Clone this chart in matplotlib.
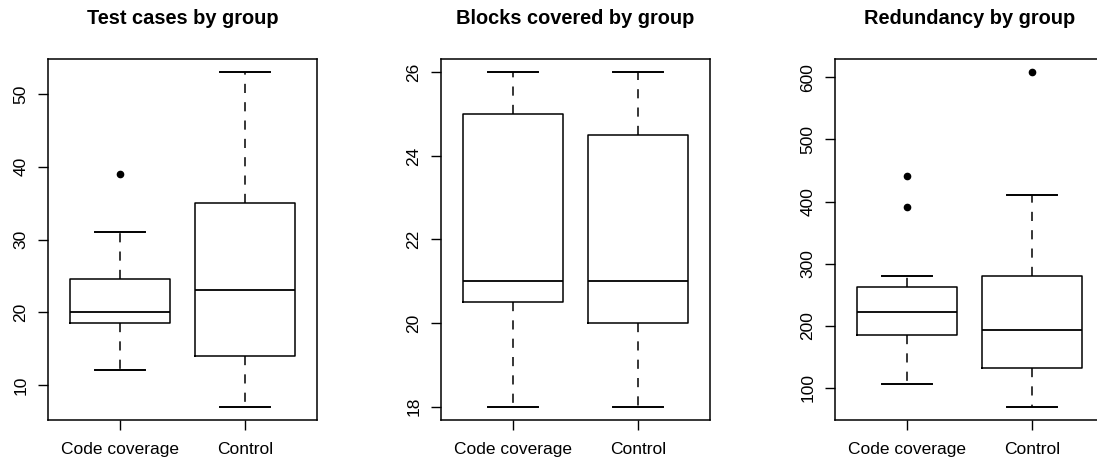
import matplotlib
matplotlib.use("Agg")
import matplotlib.pyplot as plt

plt.rcParams['font.family'] = ['Liberation Sans', 'DejaVu Sans']

groups = ["Code coverage", "Control"]
titles = ["Test cases by group", "Blocks covered by group", "Redundancy by group"]

# five-number summaries: low whisker, q1, median, q3, high whisker
tests_cov = [12, 18.5, 20, 24.5, 31]
tests_ctl = [7, 14, 23, 35, 53]
tests_out = [[39], []]

blocks_cov = [18, 20.5, 21, 25, 26]
blocks_ctl = [18, 20, 21, 24.5, 26]
blocks_out = [[], []]

redund_cov = [107, 185, 222, 263, 281]
redund_ctl = [70, 132, 194, 280, 410]
redund_out = [[391, 441], [608]]

yticks = [[10, 20, 30, 40, 50], [18, 20, 22, 24, 26], [100, 200, 300, 400, 500, 600]]


def make_stats(s, out):
    return {"whislo": s[0], "q1": s[1], "med": s[2], "q3": s[3], "whishi": s[4],
            "fliers": out}


panels = [
    ([tests_cov, tests_ctl], tests_out),
    ([blocks_cov, blocks_ctl], blocks_out),
    ([redund_cov, redund_ctl], redund_out),
]

W, H = 1097, 462
fig = plt.figure(figsize=(W / 100, H / 100), dpi=100)
lefts = [48, 441, 835]

for k, (summ, outs) in enumerate(panels):
    ax = fig.add_axes([lefts[k] / W, (H - 420) / H, 269 / W, 361 / H])
    stats = [make_stats(s, o) for s, o in zip(summ, outs)]
    ax.bxp(stats, positions=[1, 2], widths=0.8, showfliers=True,
           boxprops=dict(color="black", lw=1.1),
           medianprops=dict(color="black", lw=1.3),
           whiskerprops=dict(color="black", lw=1.1, linestyle=(0, (6, 6))),
           capprops=dict(color="black", lw=1.4),
           capwidths=0.4,
           flierprops=dict(marker="o", markerfacecolor="black",
                           markeredgecolor="black", markersize=4.5))
    allv = [v for s in summ for v in s] + [v for o in outs for v in o]
    lo, hi = min(allv), max(allv)
    pad = (hi - lo) * 0.04
    ax.set_ylim(lo - pad, hi + pad)
    ax.set_xlim(0.42, 2.58)
    ax.set_yticks(yticks[k])
    ax.set_yticklabels([str(t) for t in yticks[k]], rotation=90, va="center")
    ax.set_xticks([1, 2])
    ax.set_xticklabels(groups)
    ax.tick_params(axis="both", length=7, width=1.0, labelsize=12.5)
    ax.tick_params(axis="y", pad=7)
    ax.tick_params(axis="x", pad=9)
    for sp in ax.spines.values():
        sp.set_linewidth(1.1)
    ax.set_title(titles[k], fontsize=14.4, fontweight="bold", pad=25)

fig.savefig("out.png", dpi=100)
